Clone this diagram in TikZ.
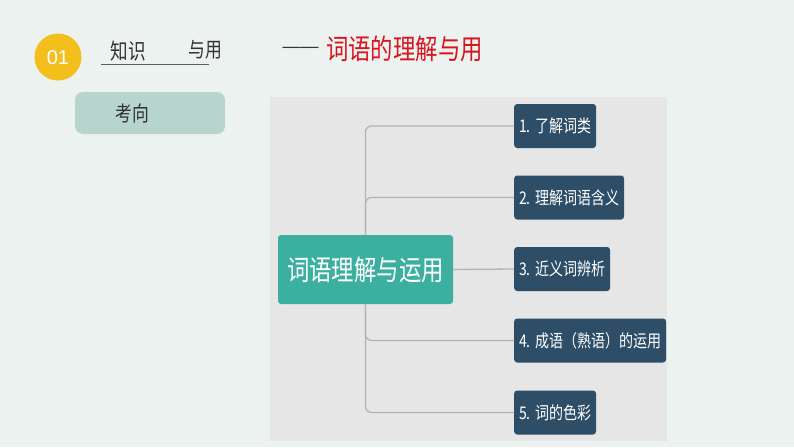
\documentclass[tikz,border=0pt]{standalone}
\usepackage{fontspec}
\setmainfont{Noto Sans CJK SC}
\newfontfamily\cond[FakeStretch=0.8]{Noto Sans CJK SC}
\newfontfamily\digitfont{Liberation Sans}
\definecolor{bg}{HTML}{ECF2F0}
\definecolor{panel}{HTML}{E6E6E6}
\definecolor{teal}{HTML}{3BAFA0}
\definecolor{darkbox}{HTML}{2E4E67}
\definecolor{tagbox}{HTML}{B8D4CF}
\definecolor{yel}{HTML}{F2BF1D}
\definecolor{redt}{HTML}{D8151E}
\definecolor{linegray}{HTML}{B3B3B3}
\definecolor{textdark}{HTML}{333333}
\tikzset{
  leaf/.style={fill=darkbox, text=white, rounded corners=3pt, minimum height=44pt,
    inner xsep=5pt, anchor=west, font=\cond\fontsize{17.5}{19}\selectfont},
  conn/.style={draw=linegray, line width=1.3pt, rounded corners=6pt},
}
\begin{document}
\begin{tikzpicture}[x=1pt,y=-1pt]
\fill[bg] (0,0) rectangle (794,447);
\useasboundingbox (0,0) rectangle (794,447);
% header
\node[circle, fill=yel, minimum size=47pt, inner sep=0pt] (num) at (58,57) {};
\node[text=white, font=\digitfont\fontsize{20}{22}\selectfont] (numt) at (58,57.5) {01};
\node[text=textdark, font=\cond\fontsize{22}{24}\selectfont, inner sep=0pt] (k1) at (128,51) {知识};
\node[text=textdark, font=\cond\fontsize{21}{24}\selectfont, inner sep=0pt] (k2) at (205,50) {与用};
\coordinate (ul1) at (101,64);
\coordinate (ul2) at (209,64);
\draw[draw=textdark!80, line width=0.9pt] (ul1) -- (ul2);
\node[text=textdark, font=\digitfont\fontsize{18}{20}\selectfont, inner sep=0pt] (dash) at (300.5,50) {——};
\node[text=redt, font=\cond\fontsize{28}{30}\selectfont, inner sep=0pt] (title) at (404.5,49) {词语的理解与用};
% tag
\node[fill=tagbox, rounded corners=8pt, minimum width=150pt, minimum height=42pt] (tag) at (150,113) {};
\node[text=textdark, font=\cond\fontsize{21}{23}\selectfont, inner sep=0pt] (tagt) at (132,113) {考向};
% panel
\fill[panel] (270,97) rectangle (667,441);
% main node
\node[fill=teal, text=white, rounded corners=3pt, minimum width=175pt, minimum height=69pt,
  inner sep=0pt, font=\cond\fontsize{28}{30}\selectfont] (main) at (365.5,269.5) {词语理解与运用};
% leaves
\node[leaf, minimum width=80pt] (b1) at (514,126) {1. 了解词类};
\node[leaf, minimum width=107pt] (b2) at (514,197.5) {2. 理解词语含义};
\node[leaf, minimum width=94pt] (b3) at (514,269) {3. 近义词辨析};
\node[leaf, minimum width=146pt] (b4) at (514,340.5) {4. 成语（熟语）的运用};
\node[leaf, minimum width=80pt] (b5) at (514,412.5) {5. 词的色彩};
% connectors
\draw[conn] (main.north) |- (b1.west);
\draw[conn] (main.north) |- (b2.west);
\draw[conn] (main.east) -- (b3.west);
\draw[conn] (main.south) |- (b4.west);
\draw[conn] (main.south) |- (b5.west);
\end{tikzpicture}
\end{document}
